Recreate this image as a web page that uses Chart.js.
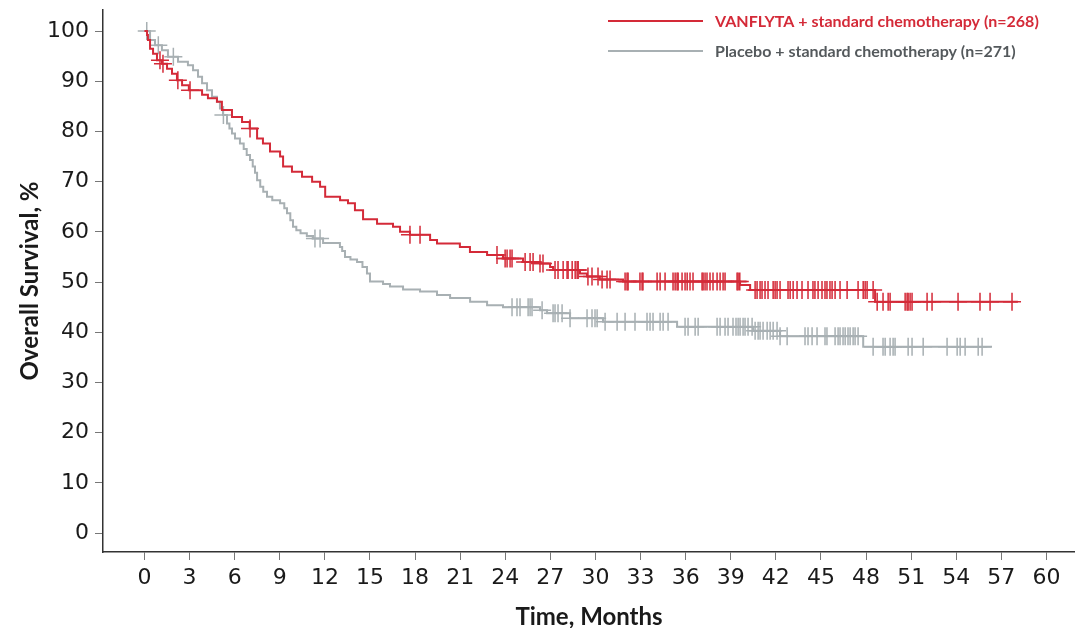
<!DOCTYPE html>
<html>
<head>
<meta charset="utf-8">
<title>Overall Survival</title>
<script src="https://cdn.jsdelivr.net/npm/chart.js@4.4.1/dist/chart.umd.min.js"></script>
<style>
  html, body { margin: 0; padding: 0; background: #fff; }
  canvas { display: block; }
</style>
</head>
<body>
<canvas id="os" width="1075" height="628"></canvas>
<script>
// series labels
const seriesNames = ['VANFLYTA + standard chemotherapy (n=268)', 'Placebo + standard chemotherapy (n=271)'];

// VANFLYTA arm: event times (months) and survival (%) after each step
const vanTime = [0, 0.17, 0.23, 0.37, 0.57, 0.83, 1.16, 1.5, 1.83, 2.16, 2.5, 2.95, 3.83, 4.22, 4.82, 5.15, 5.82, 6.49, 7.0,
  7.49, 7.88, 8.35, 9.02, 9.22, 9.81, 10.48, 11.15, 11.68, 12.02, 13.01, 13.54, 14.0, 14.54, 15.47, 16.53, 17.0, 17.66,
  19.0, 19.46, 20.98, 21.65, 22.79, 23.85, 25.18, 26.31, 26.98, 27.18, 28.97, 29.44, 30.29, 31.83, 39.62, 40.29, 48.6, 58.1];
const vanSurv = [100, 99.2, 98.2, 96.5, 95.5, 94.2, 93.5, 92.5, 91.5, 90.2, 89.2, 88.2, 87.3, 86.6, 85.9, 84.3, 82.9, 81.9, 80.6,
  78.6, 77.6, 76.0, 75.0, 73.0, 72.0, 71.0, 70.0, 69.0, 67.0, 66.3, 65.7, 64.3, 62.5, 61.6, 61.0, 60.0, 59.4,
  58.4, 57.7, 57.0, 56.0, 55.4, 54.7, 54.0, 53.7, 53.0, 52.4, 51.7, 51.1, 50.5, 50.1, 49.4, 48.4, 46.1, 46.1];
// VANFLYTA censored times (months)
const vanCensor = [1.03, 1.23, 2.22, 3.03, 7.02, 17.66, 18.33, 23.45, 23.99, 24.12, 24.32, 24.45, 25.32, 25.65, 25.85, 26.31, 26.51,
  27.31, 27.51, 27.85, 28.11, 28.18, 28.45, 28.65, 28.78, 28.85, 29.5, 29.77, 30.17, 30.44, 30.77, 30.97, 31.97, 32.1, 32.17,
  32.96, 33.1, 33.16, 34.1, 34.3, 34.63, 35.16, 35.3, 35.43, 35.5, 35.76, 35.96, 36.1, 36.29, 36.49, 37.09, 37.16, 37.29,
  37.42, 37.62, 37.82, 38.09, 38.29, 38.49, 38.62, 39.42, 39.49, 39.6, 40.62, 40.75, 40.95, 41.08, 41.28, 41.48, 41.82,
  41.95, 42.08, 42.28, 42.81, 42.95, 43.15, 43.41, 43.74, 44.14, 44.47, 44.6, 44.81, 45.07, 45.27, 45.4, 45.6, 45.74,
  45.94, 46.27, 46.74, 47.47, 47.81, 47.94, 48.07, 48.47, 48.74, 49.13, 49.47, 49.6, 50.6, 50.73, 50.8, 50.93, 51.06,
  52.06, 52.39, 54.12, 55.58, 56.25, 57.71];

// Placebo arm
const plaTime = [0, 0.37, 0.7, 1.16, 1.56, 2.23, 2.89, 3.23, 3.56, 3.83, 4.16, 4.49, 4.82, 5.02, 5.22, 5.49, 5.65, 5.82, 6.02,
  6.35, 6.6, 6.8, 7.02, 7.2, 7.35, 7.49, 7.7, 7.9, 8.15, 8.5, 9.02, 9.3, 9.48, 9.7, 9.88, 10.1, 10.38, 10.8, 11.21, 11.88,
  13.0, 13.15, 13.34, 13.7, 14.14, 14.5, 14.8, 15.0, 15.87, 16.33, 17.2, 18.33, 19.46,
  20.33, 21.66, 22.79, 23.85, 26.31, 26.78, 28.31, 30.5, 35.43, 40.49, 42.28, 47.81, 56.38];
const plaSurv = [100, 98.2, 97.2, 96.2, 94.9, 93.9, 93.2, 92.2, 90.9, 89.6, 88.2, 86.9, 85.9, 84.6, 83.3, 81.6, 80.6, 79.6, 78.6,
  77.6, 76.5, 75.3, 74.3, 73.0, 71.8, 70.3, 69.0, 68.0, 67.0, 66.3, 65.7, 64.7, 63.7, 62.3, 61.0, 60.3, 59.7, 59.2, 58.7, 57.8,
  57.0, 56.2, 55.0, 54.5, 54.0, 53.0, 51.7, 50.1, 49.6, 49.1, 48.5, 48.1, 47.4,
  46.8, 46.1, 45.4, 45.0, 44.4, 43.8, 42.8, 42.1, 41.1, 40.3, 39.2, 37.1, 37.1];
const plaCensor = [0.15, 0.92, 1.92, 5.25, 11.34, 11.68, 24.45, 24.78, 24.98, 25.52, 25.65, 25.78, 26.45, 27.18, 27.31, 27.51,
  27.78, 28.31, 29.44, 29.77, 29.97, 30.11, 30.64, 31.44, 31.97, 32.63, 33.43, 33.63, 33.83, 34.3, 34.5, 34.83, 35.96,
  36.16, 36.63, 36.83, 38.09, 38.29, 38.62, 38.82, 39.15, 39.35, 39.49, 39.62, 39.82, 39.95, 40.15, 40.42, 40.62, 40.82,
  40.95, 41.15, 41.42, 41.62, 41.82, 42.08, 42.28, 42.75, 43.94, 44.14, 44.41, 44.74, 45.27, 45.4, 45.94, 46.14, 46.27,
  46.47, 46.61, 46.8, 46.94, 47.14, 47.27, 47.47, 48.47, 49.13, 49.27, 49.6, 49.8, 49.93, 50.8, 51.06, 51.8, 53.39,
  54.06, 54.26, 54.59, 55.46, 55.72];

const xTicks = [0, 3, 6, 9, 12, 15, 18, 21, 24, 27, 30, 33, 36, 39, 42, 45, 48, 51, 54, 57, 60];
const yTicks = [0, 10, 20, 30, 40, 50, 60, 70, 80, 90, 100];

const RED = '#d42a38';
const GREY = '#a8b0b3';

const toPoints = (t, s) => t.map((v, i) => ({ x: v, y: s[i] }));

// survival level of the curve at a censoring time
const survAt = (t, s, at) => {
  let v = s[0];
  for (let i = 0; i < t.length; i++) {
    if (t[i] <= at) v = s[i];
  }
  return v;
};
const censorPoints = (t, s, c) => c.map(v => ({ x: v, y: survAt(t, s, v) }));

const curve = (label, pts, color, order) => ({
  label: label,
  data: pts,
  showLine: true,
  stepped: true,
  borderColor: color,
  borderWidth: 2,
  pointRadius: 0,
  order: order
});

const marks = (pts, color, order) => ({
  label: '',
  data: pts,
  showLine: false,
  pointStyle: 'cross',
  pointRadius: 9,
  pointHoverRadius: 9,
  borderColor: color,
  borderWidth: 1.5,
  order: order
});

const legendLines = {
  id: 'legendLines',
  afterDraw(chart) {
    const ctx = chart.ctx;
    const colors = [RED, GREY];
    const textColors = ['#d42a38', '#54595c'];
    ctx.save();
    seriesNames.forEach((name, i) => {
      const y = 21 + i * 30;
      ctx.strokeStyle = colors[i];
      ctx.lineWidth = 2;
      ctx.beginPath();
      ctx.moveTo(608, y);
      ctx.lineTo(703, y);
      ctx.stroke();
      ctx.fillStyle = textColors[i];
      ctx.font = 'bold 16px Lato';
      ctx.textBaseline = 'middle';
      ctx.fillText(name, 715, y + 1);
    });
    ctx.restore();
  }
};

const noPad = s => { s.paddingTop = 0; s.paddingBottom = 0; s.paddingLeft = 0; s.paddingRight = 0; };

const axisFont = { family: 'DejaVu Sans', size: 22 };
const titleFont = { family: 'Lato', size: 24, weight: 'bold', lineHeight: 1.0 };

new Chart(document.getElementById('os'), {
  type: 'scatter',
  data: {
    datasets: [
      marks(censorPoints(vanTime, vanSurv, vanCensor), RED, 0),
      curve(seriesNames[0], toPoints(vanTime, vanSurv), RED, 1),
      marks(censorPoints(plaTime, plaSurv, plaCensor), GREY, 2),
      curve(seriesNames[1], toPoints(plaTime, plaSurv), GREY, 3)
    ]
  },
  options: {
    responsive: false,
    animation: false,
    devicePixelRatio: 1,
    layout: { autoPadding: false, padding: { top: 10, right: 0, left: 0, bottom: 0 } },
    plugins: {
      legend: { display: false },
      tooltip: { enabled: false }
    },
    scales: {
      x: {
        type: 'linear',
        min: -2.76,
        max: 61.9,
        afterBuildTicks: s => { s.ticks = xTicks.map(v => ({ value: v })); },
        afterFit: s => { s.height = 76; noPad(s); },
        ticks: { font: axisFont, color: '#1a1a1a', padding: 5, maxRotation: 0 },
        grid: { drawOnChartArea: false, tickLength: 8, color: '#777' },
        border: { color: '#333', width: 1.5 },
        title: { display: true, text: 'Time, Months', font: titleFont, color: '#1a1a1a', padding: { top: 0, bottom: -1 } }
      },
      y: {
        type: 'linear',
        min: -3.78,
        max: 104.2,
        afterBuildTicks: s => { s.ticks = yTicks.map(v => ({ value: v })); },
        afterFit: s => { s.width = 103; noPad(s); },
        ticks: { font: axisFont, color: '#1a1a1a', padding: 6 },
        grid: { drawOnChartArea: false, tickLength: 8, color: '#777' },
        border: { color: '#333', width: 1.5 },
        title: { display: true, text: 'Overall Survival, %', font: titleFont, color: '#1a1a1a', padding: { top: 18, bottom: 0 } }
      }
    }
  },
  plugins: [legendLines]
});
</script>
</body>
</html>
